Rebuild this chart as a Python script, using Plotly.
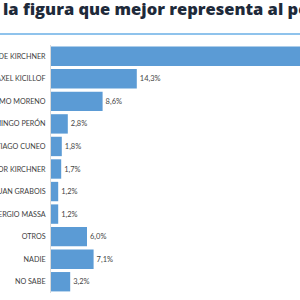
import plotly.graph_objects as go

categories = ["CRISTINA FERNÁNDEZ DE KIRCHNER", "AXEL KICILLOF", "GUILLERMO MORENO",
              "JUAN DOMINGO PERÓN", "SANTIAGO CUNEO", "NÉSTOR KIRCHNER", "JUAN GRABOIS",
              "SERGIO MASSA", "OTROS", "NADIE", "NO SABE"]
values = [45.0, 14.3, 8.6, 2.8, 1.8, 1.7, 1.2, 1.2, 6.0, 7.1, 3.2]
labels = [f"{v:.1f}%".replace(".", ",") for v in values]
title = "¿Cuál es la figura que mejor representa al peronismo?"

fig = go.Figure(go.Bar(
    x=values, y=categories, orientation="h",
    marker=dict(color="#5b9bd5", line=dict(width=0)),
    text=labels, textposition="outside", cliponaxis=True,
    textfont=dict(family="Lato", size=7.5, color="#444444"),
    width=0.86,
))

fig.update_layout(
    width=300, height=300,
    margin=dict(l=51, r=0, t=45, b=7),
    paper_bgcolor="white", plot_bgcolor="white",
    showlegend=False,
    xaxis=dict(range=[0, 41.5], visible=False, fixedrange=True),
    yaxis=dict(autorange="reversed", automargin=False,
               showline=True, linecolor="#d9d9d9", linewidth=1,
               showgrid=False, ticks="", ticklabelstandoff=3,
               tickfont=dict(family="Lato", size=7.2, color="#404040")),
    annotations=[dict(text=title, xref="paper", yref="paper",
                      x=(159 - 51) / 249, y=1 + (45 - 8) / 248, xanchor="center", yanchor="middle",
                      showarrow=False,
                      font=dict(family="Open Sans", size=16.5, weight=800, color="#1e2a3a"))],
    shapes=[dict(type="line", xref="paper", yref="paper",
                 x0=-51 / 249, x1=1, y0=1 + (45 - 34) / 248, y1=1 + (45 - 34) / 248,
                 line=dict(color="#8fc3ec", width=2))],
)

fig.write_html("out.html")
